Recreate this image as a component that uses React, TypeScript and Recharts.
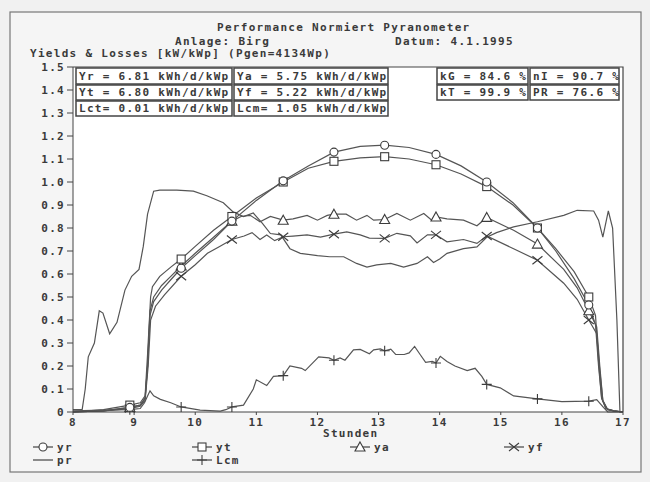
import React from "react";
import { LineChart, Line, XAxis, YAxis } from "recharts";

// ---------- data (hours, kW/kWp) ----------
const X_TICKS = [8, 9, 10, 11, 12, 13, 14, 15, 16, 17];
const Y_TICKS = [0, 0.1, 0.2, 0.3, 0.4, 0.5, 0.6, 0.7, 0.8, 0.9, 1.0, 1.1, 1.2, 1.3, 1.4, 1.5];
const MARKER_TIMES = [8.93, 9.77, 10.6, 11.44, 12.27, 13.1, 13.94, 14.77, 15.6, 16.44];

const YR: [number, number][] = [
  [8.0, 0.0], [8.5, 0.005], [8.93, 0.02], [9.1, 0.03], [9.18, 0.06], [9.22, 0.2], [9.26, 0.42],
  [9.32, 0.48], [9.45, 0.53], [9.6, 0.575], [9.77, 0.625], [10.0, 0.68], [10.3, 0.75], [10.6, 0.83],
  [11.0, 0.92], [11.44, 1.005], [11.85, 1.07], [12.27, 1.13], [12.7, 1.155], [13.1, 1.16],
  [13.5, 1.15], [13.94, 1.12], [14.35, 1.07], [14.77, 1.0], [15.2, 0.91], [15.6, 0.8], [15.9, 0.7],
  [16.2, 0.58], [16.44, 0.465], [16.55, 0.38], [16.6, 0.2], [16.65, 0.06], [16.72, 0.015],
  [16.85, 0.005], [17.0, 0.0],
];
const YT: [number, number][] = [
  [8.0, 0.0], [8.5, 0.01], [8.93, 0.03], [9.1, 0.04], [9.18, 0.07], [9.22, 0.25], [9.27, 0.5],
  [9.3, 0.545], [9.42, 0.59], [9.6, 0.63], [9.77, 0.665], [10.0, 0.72], [10.3, 0.79], [10.6, 0.85],
  [11.0, 0.93], [11.44, 1.0], [11.85, 1.06], [12.27, 1.09], [12.7, 1.105], [13.1, 1.11],
  [13.5, 1.1], [13.94, 1.075], [14.35, 1.035], [14.77, 0.98], [15.2, 0.9], [15.6, 0.8],
  [15.9, 0.71], [16.2, 0.61], [16.44, 0.5], [16.55, 0.42], [16.6, 0.22], [16.65, 0.06],
  [16.72, 0.015], [16.85, 0.005], [17.0, 0.0],
];
const YA: [number, number][] = [
  [8.0, 0.0], [8.5, 0.005], [8.93, 0.02], [9.1, 0.03], [9.18, 0.06], [9.22, 0.2], [9.26, 0.44],
  [9.32, 0.5], [9.45, 0.55], [9.6, 0.59], [9.77, 0.635], [10.0, 0.69], [10.3, 0.76], [10.6, 0.83],
  [10.75, 0.85], [10.9, 0.855], [11.06, 0.827], [11.23, 0.85], [11.44, 0.834], [11.6, 0.84],
  [11.83, 0.855], [12.0, 0.834], [12.16, 0.855], [12.27, 0.86], [12.47, 0.86], [12.64, 0.834],
  [12.81, 0.855], [12.92, 0.834], [13.1, 0.837], [13.3, 0.863], [13.52, 0.834], [13.74, 0.863],
  [13.87, 0.834], [13.94, 0.848], [14.12, 0.84], [14.39, 0.834], [14.61, 0.81], [14.77, 0.846],
  [15.21, 0.79], [15.6, 0.73], [16.03, 0.62], [16.25, 0.54], [16.44, 0.44], [16.57, 0.37],
  [16.62, 0.2], [16.67, 0.05], [16.75, 0.01], [16.85, 0.005], [17.0, 0.0],
];
const YF: [number, number][] = [
  [8.0, 0.0], [8.5, 0.005], [8.93, 0.015], [9.1, 0.025], [9.18, 0.05], [9.23, 0.2], [9.27, 0.4],
  [9.35, 0.46], [9.5, 0.51], [9.77, 0.59], [10.0, 0.64], [10.2, 0.69], [10.4, 0.72], [10.6, 0.75],
  [10.8, 0.765], [10.93, 0.78], [11.06, 0.75], [11.17, 0.77], [11.3, 0.745], [11.44, 0.762],
  [11.6, 0.765], [11.83, 0.77], [12.05, 0.76], [12.27, 0.773], [12.48, 0.783], [12.7, 0.77],
  [12.85, 0.756], [13.1, 0.755], [13.3, 0.777], [13.52, 0.766], [13.63, 0.735], [13.8, 0.77],
  [13.94, 0.77], [14.12, 0.74], [14.39, 0.75], [14.61, 0.733], [14.77, 0.765], [15.21, 0.71],
  [15.6, 0.66], [16.03, 0.56], [16.25, 0.49], [16.44, 0.4], [16.57, 0.34], [16.62, 0.18],
  [16.67, 0.05], [16.75, 0.01], [16.85, 0.005], [17.0, 0.0],
];
const PR: [number, number][] = [
  [8.0, 0.01], [8.15, 0.01], [8.2, 0.1], [8.25, 0.24], [8.35, 0.3], [8.43, 0.44], [8.49, 0.43],
  [8.6, 0.34], [8.72, 0.39], [8.85, 0.53], [8.96, 0.59], [9.08, 0.62], [9.15, 0.72], [9.22, 0.86],
  [9.32, 0.96], [9.42, 0.965], [9.7, 0.965], [9.97, 0.96], [10.19, 0.94], [10.46, 0.91],
  [10.62, 0.87], [10.79, 0.85], [10.95, 0.865], [11.1, 0.82], [11.23, 0.776], [11.4, 0.77],
  [11.55, 0.71], [11.72, 0.69], [12.0, 0.68], [12.2, 0.675], [12.43, 0.675], [12.64, 0.646],
  [12.81, 0.63], [12.97, 0.64], [13.2, 0.646], [13.41, 0.63], [13.63, 0.646], [13.8, 0.675],
  [13.9, 0.65], [14.0, 0.665], [14.12, 0.69], [14.39, 0.71], [14.61, 0.718], [14.77, 0.76],
  [14.93, 0.78], [15.21, 0.805], [15.6, 0.827], [16.03, 0.855], [16.25, 0.877], [16.52, 0.874],
  [16.6, 0.834], [16.67, 0.76], [16.76, 0.874], [16.83, 0.8], [16.9, 0.4], [16.95, 0.0], [17.0, 0.0],
];
const LCM: [number, number][] = [
  [8.0, 0.005], [8.5, 0.008], [8.93, 0.01], [9.1, 0.015], [9.17, 0.04], [9.22, 0.07], [9.26, 0.092],
  [9.32, 0.07], [9.43, 0.055], [9.6, 0.04], [9.77, 0.022], [10.08, 0.008], [10.41, 0.004],
  [10.5, 0.01], [10.6, 0.022], [10.79, 0.03], [10.95, 0.1], [11.0, 0.14], [11.17, 0.115],
  [11.28, 0.155], [11.44, 0.158], [11.55, 0.2], [11.74, 0.19], [11.8, 0.18], [12.02, 0.24],
  [12.19, 0.235], [12.27, 0.225], [12.37, 0.235], [12.45, 0.225], [12.59, 0.27], [12.7, 0.272],
  [12.85, 0.253], [12.92, 0.27], [13.03, 0.274], [13.1, 0.266], [13.2, 0.273], [13.28, 0.25],
  [13.42, 0.25], [13.5, 0.257], [13.59, 0.285], [13.68, 0.25], [13.77, 0.216], [13.88, 0.22],
  [13.94, 0.213], [14.01, 0.242], [14.12, 0.22], [14.25, 0.2], [14.45, 0.18], [14.58, 0.19],
  [14.69, 0.155], [14.77, 0.12], [14.99, 0.105], [15.21, 0.07], [15.6, 0.057], [16.0, 0.045],
  [16.44, 0.047], [16.57, 0.054], [16.68, 0.02], [16.75, 0.0], [17.0, 0.0],
];

const INFO_ROWS = [
  ["Yr = 6.81 kWh/d/kWp", "Ya = 5.75 kWh/d/kWp", "kG = 84.6 %", "nI = 90.7 %"],
  ["Yt = 6.80 kWh/d/kWp", "Yf = 5.22 kWh/d/kWp", "kT = 99.9 %", "PR = 76.6 %"],
  ["Lct= 0.01 kWh/d/kWp", "Lcm= 1.05 kWh/d/kWp", "", ""],
];

// ---------- styles ----------
const INK = "#3a3a3a";
const LINE = "#555";
const FONT = "'DejaVu Sans Mono', 'Liberation Mono', monospace";
const txt = { fontFamily: FONT, fontSize: 11, fontWeight: 700, fill: INK, letterSpacing: "1.3px" } as const;

type Shape = "circle" | "square" | "triangle" | "x" | "plus";

function Marker({ shape, cx, cy }: { shape: Shape; cx: number; cy: number }) {
  const p = { fill: "none", stroke: "#3c3c3c", strokeWidth: 1.1 };
  if (shape === "circle") return <circle cx={cx} cy={cy} r={4} {...p} fill="#fff" />;
  if (shape === "square") return <rect x={cx - 4} y={cy - 4} width={8} height={8} {...p} fill="#fff" />;
  if (shape === "triangle")
    return <path d={`M${cx},${cy - 5}L${cx + 5},${cy + 4}L${cx - 5},${cy + 4}Z`} {...p} fill="#fff" />;
  if (shape === "x")
    return <path d={`M${cx - 5},${cy - 4}L${cx + 5},${cy + 4}M${cx - 5},${cy + 4}L${cx + 5},${cy - 4}`} {...p} />;
  return <path d={`M${cx - 5},${cy}L${cx + 5},${cy}M${cx},${cy - 5}L${cx},${cy + 5}`} {...p} />;
}

const makeDot = (shape: Shape | null) => (props: any) => {
  const { cx, cy, payload, index } = props;
  const key = `d-${shape}-${index}`;
  if (!shape || cx == null || cy == null) return <g key={key} />;
  const on = MARKER_TIMES.some((m) => Math.abs(m - payload.t) < 0.001);
  if (!on) return <g key={key} />;
  return (
    <g key={key}>
      <Marker shape={shape} cx={cx} cy={cy} />
    </g>
  );
};

const toRows = (arr: [number, number][]) => arr.map(([t, v]) => ({ t, v }));

const SERIES: { name: string; data: [number, number][]; shape: Shape | null }[] = [
  { name: "pr", data: PR, shape: null },
  { name: "Lcm", data: LCM, shape: "plus" },
  { name: "yf", data: YF, shape: "x" },
  { name: "ya", data: YA, shape: "triangle" },
  { name: "yt", data: YT, shape: "square" },
  { name: "yr", data: YR, shape: "circle" },
];

// layout
const PL = 73, PR_ = 623, PT = 67, PB = 412;

const BOX_COLS = [
  [76, 232],
  [234, 388],
  [437, 528],
  [530, 619],
];
const BOX_ROWS = [
  [68, 84],
  [85, 100],
  [101, 116],
];

const LEGEND: { label: string; shape: Shape | null; x: number; y: number }[] = [
  { label: "yr", shape: "circle", x: 33, y: 447 },
  { label: "yt", shape: "square", x: 192, y: 447 },
  { label: "ya", shape: "triangle", x: 350, y: 447 },
  { label: "yf", shape: "x", x: 504, y: 447 },
  { label: "pr", shape: null, x: 33, y: 460 },
  { label: "Lcm", shape: "plus", x: 192, y: 460 },
];

export default function App() {
  return (
    <div style={{ position: "absolute", left: 0, top: 0, width: 650, height: 482, background: "#f1f1f1" }}>
      {/* outer frame & plot background */}
      <svg width={650} height={482} style={{ position: "absolute", left: 0, top: 0 }}>
        <rect x={10} y={12} width={631} height={460} fill="#f5f5f5" stroke="#777" strokeWidth={1.2} />
        <rect x={PL} y={PT} width={PR_ - PL} height={PB - PT} fill="#ffffff" />
      </svg>
      <div style={{ position: "absolute", left: 0, top: 0 }}>
        <LineChart width={650} height={482} margin={{ top: PT, right: 650 - PR_, bottom: 45, left: 33 }}>
          <XAxis
            dataKey="t"
            type="number"
            domain={[8, 17]}
            ticks={X_TICKS}
            allowDuplicatedCategory={false}
            height={25}
            tickSize={3}
            tickMargin={3}
            stroke="#444"
            tick={txt}
            interval={0}
          />
          <YAxis
            type="number"
            domain={[0, 1.5]}
            ticks={Y_TICKS}
            width={40}
            tickSize={6}
            tickMargin={2}
            stroke="#444"
            tick={txt}
            interval={0}
            tickFormatter={(v: number) => (v === 0 ? "0" : v.toFixed(1))}
          />
          {SERIES.map((s) => (
            <Line
              key={s.name}
              data={toRows(s.data)}
              dataKey="v"
              name={s.name}
              type="linear"
              stroke={LINE}
              strokeWidth={1.2}
              dot={makeDot(s.shape)}
              activeDot={false}
              isAnimationActive={false}
            />
          ))}
        </LineChart>
      </div>
      {/* overlay: frame, texts, info boxes, legend */}
      <svg width={650} height={482} style={{ position: "absolute", left: 0, top: 0, pointerEvents: "none" }}>
        <path d={`M${PL},${PT}H${PR_}V${PB}`} fill="none" stroke="#444" strokeWidth={1.2} />
        <text x={217} y={31} style={txt}>Performance Normiert Pyranometer</text>
        <text x={175} y={45} style={txt}>Anlage: Birg</text>
        <text x={395} y={45} style={txt}>Datum: 4.1.1995</text>
        <text x={30} y={57} style={txt}>Yields &amp; Losses [kW/kWp] (Pgen=4134Wp)</text>
        {INFO_ROWS.map((row, ri) =>
          row.map((cell, ci) =>
            cell ? (
              <g key={`b-${ri}-${ci}`}>
                <rect
                  x={BOX_COLS[ci][0]}
                  y={BOX_ROWS[ri][0]}
                  width={BOX_COLS[ci][1] - BOX_COLS[ci][0]}
                  height={BOX_ROWS[ri][1] - BOX_ROWS[ri][0]}
                  fill="#fff"
                  stroke="#444"
                  strokeWidth={1.5}
                />
                <text x={BOX_COLS[ci][0] + 3} y={BOX_ROWS[ri][1] - 4} style={txt}>
                  {cell}
                </text>
              </g>
            ) : null
          )
        )}
        <text x={323} y={437} style={txt}>Stunden</text>
        {LEGEND.map((l) => (
          <g key={l.label}>
            <line x1={l.x} y1={l.y} x2={l.x + 20} y2={l.y} stroke="#444" strokeWidth={1.2} />
            {l.shape ? <Marker shape={l.shape} cx={l.x + 10} cy={l.y} /> : null}
            <text x={l.x + 24} y={l.y + 4} style={txt}>{l.label}</text>
          </g>
        ))}
      </svg>
    </div>
  );
}
